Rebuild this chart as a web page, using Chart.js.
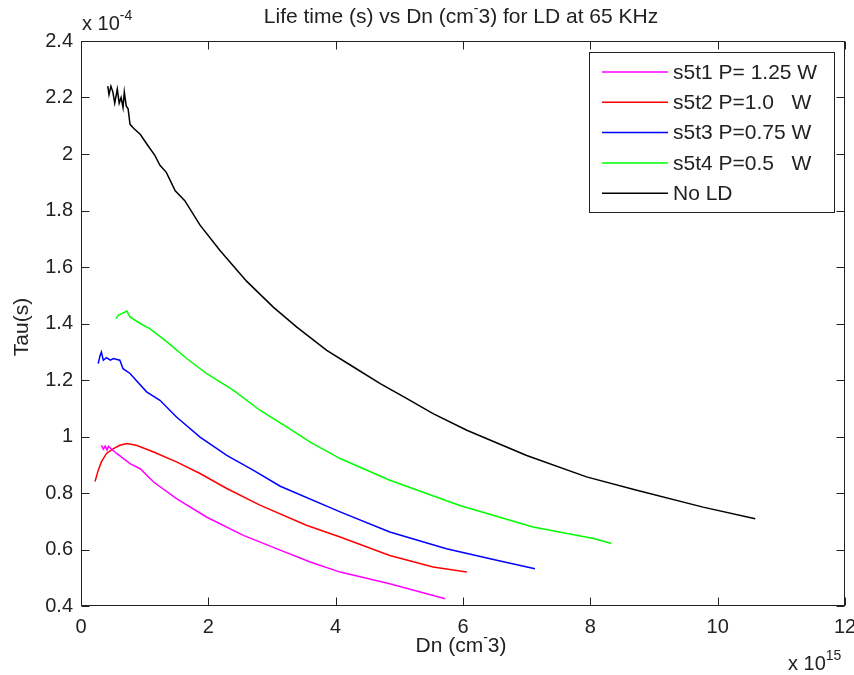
<!DOCTYPE html>
<html>
<head>
<meta charset="utf-8">
<script src="https://cdn.jsdelivr.net/npm/chart.js@4/dist/chart.umd.min.js"></script>
<style>
  html, body { margin: 0; padding: 0; background: #fff; }
  canvas { display: block; }
</style>
</head>
<body>
<canvas id="tauChart" width="854" height="675"></canvas>
<script>
// ------------------ Data (x in 1e15 cm^-3, y in 1e-4 s) ------------------
const s5t1X = [0.32, 0.35, 0.38, 0.41, 0.43, 0.56, 0.77, 0.93, 1.14, 1.50, 1.97, 2.55, 3.07, 3.60, 4.07, 4.85, 5.72];
const s5t1Y = [0.969, 0.955, 0.966, 0.952, 0.965, 0.94, 0.904, 0.886, 0.839, 0.78, 0.715, 0.65, 0.603, 0.556, 0.52, 0.479, 0.426];

const s5t2X = [0.22, 0.27, 0.32, 0.40, 0.51, 0.61, 0.72, 0.87, 1.14, 1.50, 1.87, 2.29, 2.81, 3.54, 4.07, 4.85, 5.53, 6.06];
const s5t2Y = [0.841, 0.88, 0.91, 0.94, 0.957, 0.969, 0.975, 0.969, 0.945, 0.91, 0.869, 0.816, 0.757, 0.686, 0.644, 0.579, 0.538, 0.52];

const s5t3X = [0.27, 0.30, 0.32, 0.35, 0.40, 0.46, 0.51, 0.61, 0.66, 0.77, 1.03, 1.24, 1.50, 1.87, 2.29, 2.71, 3.13, 4.07, 4.85, 5.74, 6.53, 7.13];
const s5t3Y = [1.258, 1.287, 1.299, 1.27, 1.279, 1.27, 1.276, 1.27, 1.24, 1.223, 1.158, 1.128, 1.069, 0.998, 0.933, 0.88, 0.824, 0.733, 0.662, 0.603, 0.562, 0.532];

const s5t4X = [0.55, 0.59, 0.64, 0.72, 0.77, 0.93, 1.08, 1.35, 1.66, 1.97, 2.39, 2.81, 3.23, 3.60, 4.07, 4.85, 5.95, 7.10, 8.05, 8.33];
const s5t4Y = [1.417, 1.43, 1.435, 1.444, 1.423, 1.40, 1.382, 1.335, 1.276, 1.223, 1.164, 1.093, 1.034, 0.98, 0.922, 0.845, 0.756, 0.68, 0.639, 0.621];

const noLdX = [0.42, 0.44, 0.47, 0.50, 0.53, 0.57, 0.60, 0.63, 0.66, 0.68, 0.71, 0.74, 0.77, 0.83, 0.93, 1.05, 1.16, 1.24, 1.34, 1.48, 1.63, 1.87, 2.18, 2.60, 3.02, 3.39, 3.86, 4.28, 4.70, 5.12, 5.53, 6.06, 7.00, 7.94, 8.73, 9.77, 10.59];
const noLdY = [2.24, 2.21, 2.24, 2.22, 2.18, 2.23, 2.18, 2.20, 2.165, 2.22, 2.17, 2.16, 2.105, 2.09, 2.07, 2.03, 1.995, 1.96, 1.935, 1.87, 1.835, 1.748, 1.659, 1.55, 1.458, 1.387, 1.305, 1.246, 1.187, 1.134, 1.081, 1.022, 0.933, 0.857, 0.81, 0.75, 0.709];

const seriesLabels = ["s5t1 P= 1.25 W", "s5t2 P=1.0   W", "s5t3 P=0.75 W", "s5t4 P=0.5   W", "No LD"];
const seriesColors = ["#ff00ff", "#ff0000", "#0000ff", "#00ff00", "#000000"];

const xTicks = [0, 2, 4, 6, 8, 10, 12];
const yTicks = [0.4, 0.6, 0.8, 1, 1.2, 1.4, 1.6, 1.8, 2, 2.2, 2.4];

const FONT = '"Liberation Sans", Arial, Helvetica, sans-serif';
const AXIS = "#222";

function pts(xs, ys) {
  return xs.map((x, i) => ({ x: x, y: ys[i] }));
}

// draws text made of normal and superscript pieces
function drawParts(ctx, parts, x, y, align, size) {
  const supSize = Math.round(size * 0.68);
  let total = 0;
  parts.forEach(p => {
    ctx.font = (p.sup ? supSize : size) + "px " + FONT;
    total += ctx.measureText(p.t).width;
  });
  let cx = align === "center" ? x - total / 2 : align === "right" ? x - total : x;
  ctx.textAlign = "left";
  ctx.textBaseline = "alphabetic";
  parts.forEach(p => {
    ctx.font = (p.sup ? supSize : size) + "px " + FONT;
    ctx.fillText(p.t, cx, p.sup ? y - size * 0.5 : y);
    cx += ctx.measureText(p.t).width;
  });
}

// ------------------ Box, inward ticks, texts, legend ------------------
const decor = {
  id: "decor",
  afterDraw(chart) {
    const ctx = chart.ctx;
    const a = chart.chartArea;
    const xs = chart.scales.x, ys = chart.scales.y;
    const L = Math.round(a.left) + 0.5, R = Math.round(a.right) - 0.5;
    const T = Math.round(a.top) + 0.5, B = Math.round(a.bottom) - 0.5;
    ctx.save();
    ctx.strokeStyle = AXIS;
    ctx.lineWidth = 1;
    ctx.strokeRect(L, T, R - L, B - T);

    ctx.beginPath();
    xTicks.forEach(v => {
      const px = Math.round(xs.getPixelForValue(v)) + 0.5;
      ctx.moveTo(px, B); ctx.lineTo(px, B - 8);
      ctx.moveTo(px, T); ctx.lineTo(px, T + 8);
    });
    yTicks.forEach(v => {
      const py = Math.round(ys.getPixelForValue(v)) + 0.5;
      ctx.moveTo(L, py); ctx.lineTo(L + 8, py);
      ctx.moveTo(R, py); ctx.lineTo(R - 8, py);
    });
    ctx.stroke();

    ctx.fillStyle = AXIS;
    // title
    drawParts(ctx, [{ t: "Life time (s) vs Dn (cm" }, { t: "-", sup: true }, { t: "3) for LD at 65 KHz" }], 461, 23, "center", 21);
    // axis labels
    drawParts(ctx, [{ t: "Dn (cm" }, { t: "-", sup: true }, { t: "3)" }], 461, 652, "center", 21);
    ctx.save();
    ctx.translate(28, 327);
    ctx.rotate(-Math.PI / 2);
    drawParts(ctx, [{ t: "Tau(s)" }], 0, 0, "center", 21);
    ctx.restore();
    // exponents
    drawParts(ctx, [{ t: "x 10" }, { t: "-4", sup: true }], 82, 30, "left", 20);
    drawParts(ctx, [{ t: "x 10" }, { t: "15", sup: true }], 788, 670, "left", 20);

    // legend
    const lx = 589.5, ly = 52.5, lw = 245, lh = 160;
    ctx.fillStyle = "#fff";
    ctx.fillRect(lx, ly, lw, lh);
    ctx.strokeStyle = AXIS;
    ctx.strokeRect(lx, ly, lw, lh);
    chart.data.datasets.forEach((ds, i) => {
      const ry = 72 + i * 30.3;
      ctx.strokeStyle = ds.borderColor;
      ctx.lineWidth = 1.5;
      ctx.beginPath();
      ctx.moveTo(602, ry); ctx.lineTo(668, ry);
      ctx.stroke();
      ctx.fillStyle = AXIS;
      ctx.font = "21px " + FONT;
      ctx.textAlign = "left";
      ctx.textBaseline = "middle";
      ctx.fillText(ds.label, 673, ry + 1);
    });
    ctx.restore();
  }
};

const allX = [s5t1X, s5t2X, s5t3X, s5t4X, noLdX];
const allY = [s5t1Y, s5t2Y, s5t3Y, s5t4Y, noLdY];

new Chart(document.getElementById("tauChart"), {
  type: "line",
  data: {
    datasets: seriesLabels.map((lab, i) => ({
      label: lab,
      data: pts(allX[i], allY[i]),
      borderColor: seriesColors[i],
      borderWidth: 1.5,
      pointRadius: 0,
      tension: 0,
      fill: false
    }))
  },
  options: {
    responsive: false,
    animation: false,
    layout: { padding: { top: 41, right: 9, left: 0, bottom: 0 } },
    plugins: { legend: { display: false }, title: { display: false }, tooltip: { enabled: false } },
    scales: {
      x: {
        type: "linear",
        min: 0, max: 12,
        afterBuildTicks: s => { s.ticks = xTicks.map(v => ({ value: v })); },
        afterFit: s => { s.height = 69; s.paddingLeft = 0; s.paddingRight = 0; },
        grid: { display: false, drawTicks: false },
        border: { display: false },
        ticks: { color: AXIS, padding: 9, maxRotation: 0, autoSkip: false, font: { family: FONT, size: 20 } }
      },
      y: {
        type: "linear",
        min: 0.4, max: 2.4,
        afterBuildTicks: s => { s.ticks = yTicks.map(v => ({ value: v })); },
        afterFit: s => { s.width = 81; s.paddingTop = 0; s.paddingBottom = 0; },
        grid: { display: false, drawTicks: false },
        border: { display: false },
        ticks: {
          color: AXIS, padding: 8, autoSkip: false, font: { family: FONT, size: 20 },
          callback: v => String(Number(v.toFixed(1)))
        }
      }
    }
  },
  plugins: [decor]
});
</script>
</body>
</html>
